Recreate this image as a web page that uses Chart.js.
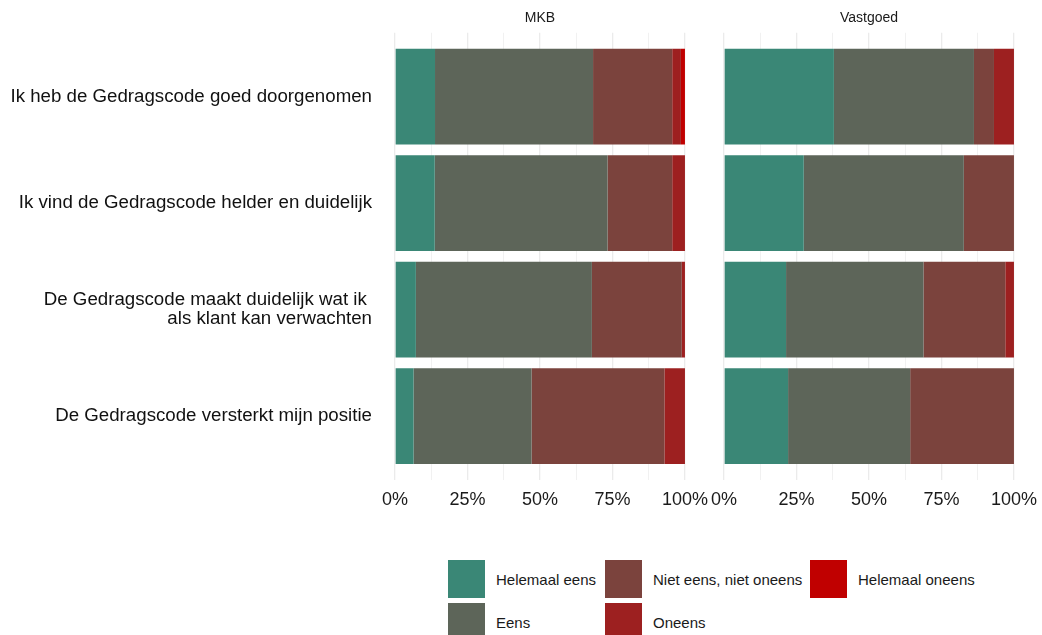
<!DOCTYPE html>
<html>
<head>
<meta charset="utf-8">
<script src="https://cdn.jsdelivr.net/npm/chart.js@4/dist/chart.umd.min.js"></script>
<style>
    body { margin: 0; background: #fff; width: 1042px; height: 635px; overflow: hidden; position: relative; font-family: "Liberation Sans", Arial, sans-serif; }
    .panel { position: absolute; top: 0; height: 520px; }
    #mkb { left: 0; width: 717px; }
    #vastgoed { left: 700px; width: 346px; }
    .legend-item { position: absolute; display: flex; align-items: center; font-size: 15px; color: #1a1a1a; }
    .legend-item .swatch { width: 37px; height: 38px; margin-right: 11px; }
</style>
</head>
<body>
<div class="panel" id="mkb"><canvas id="mkbCanvas"></canvas></div>
<div class="panel" id="vastgoed"><canvas id="vastgoedCanvas"></canvas></div>
<div id="legend"></div>
<script>
const questions = [
    ['Ik heb de Gedragscode goed doorgenomen'],
    ['Ik vind de Gedragscode helder en duidelijk'],
    ['De Gedragscode maakt duidelijk wat ik ', 'als klant kan verwachten'],
    ['De Gedragscode versterkt mijn positie']
];
const answers = ['Helemaal eens', 'Eens', 'Niet eens, niet oneens', 'Oneens', 'Helemaal oneens'];
const answerColors = ['#3a8776', '#5d6559', '#7b433d', '#9d2020', '#c00000'];

// percentages per answer, one value per question (same order as questions)
const mkbHelemaalEens   = [13.8, 13.7, 7.2, 6.4];
const mkbEens           = [54.5, 59.6, 60.7, 40.7];
const mkbNietEens       = [27.3, 22.3, 31.0, 45.8];
const mkbOneens         = [3.0, 4.4, 1.1, 7.1];
const mkbHelemaalOneens = [1.4, 0, 0, 0];

const vgHelemaalEens    = [37.9, 27.5, 21.4, 22.1];
const vgEens            = [48.3, 55.2, 47.4, 42.1];
const vgNietEens        = [6.9, 17.3, 28.2, 35.8];
const vgOneens          = [6.9, 0, 3.0, 0];
const vgHelemaalOneens  = [0, 0, 0, 0];

const xTicks = [0, 25, 50, 75, 100];

const fontFamily = '"Liberation Sans", Arial, sans-serif';
Chart.defaults.font.family = fontFamily;
Chart.defaults.color = '#1a1a1a';

const getDatasets = (series) => series.map((values, i) => ({
    label: answers[i],
    data: values,
    backgroundColor: answerColors[i],
    borderWidth: 0,
    categoryPercentage: 1,
    barPercentage: 0.9,
}));

const renderPanel = (canvasId, title, series, showLabels) => {
    const ctx = document.getElementById(canvasId).getContext('2d');
    return new Chart(ctx, {
        type: 'bar',
        data: {
            labels: questions.map((q, i) => i + 1),
            datasets: getDatasets(series),
        },
        options: {
            indexAxis: 'y',
            responsive: true,
            maintainAspectRatio: false,
            animation: false,
            layout: {
                padding: showLabels ? { left: 0, right: 27 } : { left: 24, right: 28 }
            },
            plugins: {
                legend: { display: false },
                tooltip: { enabled: false },
                title: {
                    display: true,
                    text: title,
                    fullSize: false,
                    color: '#1a1a1a',
                    font: { size: 14, weight: 'normal' },
                    padding: { top: 10, bottom: 6 }
                }
            },
            scales: {
                x: {
                    type: 'linear',
                    stacked: true,
                    min: 0,
                    max: 100,
                    border: { display: false },
                    grid: {
                        color: '#ebebeb',
                        drawTicks: false,
                        lineWidth: (c) => (c.tick && c.tick.value % 25 === 0) ? 1.3 : 0.7
                    },
                    ticks: {
                        stepSize: 12.5,
                        autoSkip: false,
                        maxRotation: 0,
                        padding: 9,
                        color: '#1a1a1a',
                        font: { size: 18 },
                        callback: (v) => xTicks.includes(v) ? v + '%' : ''
                    },
                    afterFit: (scale) => { scale.height = 40; }
                },
                y: {
                    type: 'linear',
                    stacked: true,
                    reverse: true,
                    offset: false,
                    min: 0.4,
                    max: 4.6,
                    display: showLabels,
                    border: { display: false },
                    grid: { display: false, drawTicks: false, offset: false },
                    afterBuildTicks: (scale) => {
                        scale.ticks = questions.map((q, i) => ({ value: i + 1 }));
                    },
                    ticks: {
                        padding: 23,
                        color: '#111',
                        font: { size: 18.7, lineHeight: 1.0 },
                        callback: (v) => questions[v - 1]
                    },
                    afterFit: (scale) => { if (showLabels) scale.width = 395; }
                }
            }
        }
    });
};

renderPanel('mkbCanvas', 'MKB',
    [mkbHelemaalEens, mkbEens, mkbNietEens, mkbOneens, mkbHelemaalOneens], true);
renderPanel('vastgoedCanvas', 'Vastgoed',
    [vgHelemaalEens, vgEens, vgNietEens, vgOneens, vgHelemaalOneens], false);

// legend, filled column by column like the original
const legendEl = document.getElementById('legend');
const legendColumnsX = [448, 605, 810];
const legendRowsY = [560, 603];
answers.forEach((label, i) => {
    const item = document.createElement('div');
    item.classList = 'legend-item';
    item.style.left = legendColumnsX[Math.floor(i / 2)] + 'px';
    item.style.top = legendRowsY[i % 2] + 'px';
    item.innerHTML = `<div class="swatch" style="background:${answerColors[i]}"></div><span>${label}</span>`;
    legendEl.appendChild(item);
});
</script>
</body>
</html>
